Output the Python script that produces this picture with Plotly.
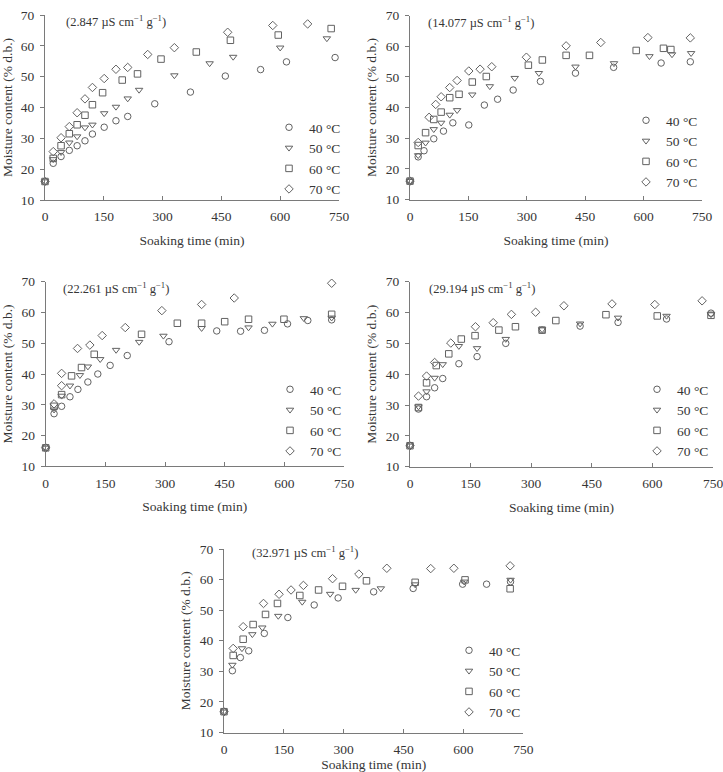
import plotly.graph_objects as go

# ---------------- data (soaking time in min, moisture content % d.b.) ----------------
panel_labels = ["(2.847 µS cm<sup>−1</sup> g<sup>−1</sup>)",
                "(14.077 µS cm<sup>−1</sup> g<sup>−1</sup>)",
                "(22.261 µS cm<sup>−1</sup> g<sup>−1</sup>)",
                "(29.194 µS cm<sup>−1</sup> g<sup>−1</sup>)",
                "(32.971 µS cm<sup>−1</sup> g<sup>−1</sup>)"]
series_names = ["40 °C", "50 °C", "60 °C", "70 °C"]
x_ticks = [0, 150, 300, 450, 600, 750]
y_ticks = [10, 20, 30, 40, 50, 60, 70]

# Panel 1: 2.847
p1_t40 = [0, 21, 41, 62, 82, 102, 121, 151, 181, 211, 280, 371, 460, 550, 616, 740]
p1_m40 = [16, 21.9, 24.1, 26.1, 27.6, 29.2, 31.4, 33.6, 35.7, 37.1, 41.2, 45.0, 50.2, 52.3, 54.8, 56.2]
p1_t50 = [0, 21, 41, 62, 82, 102, 121, 151, 181, 211, 240, 330, 420, 480, 600, 719]
p1_m50 = [16, 23.2, 25.5, 28.6, 30.6, 33.5, 34.4, 38.1, 40.2, 42.9, 45.7, 50.4, 54.3, 56.4, 59.4, 62.4]
p1_t60 = [0, 21, 41, 62, 82, 102, 121, 147, 197, 236, 296, 386, 473, 595, 730]
p1_m60 = [16, 23.5, 27.6, 31.5, 34.4, 37.5, 40.9, 44.8, 48.9, 50.9, 55.7, 58.0, 61.8, 63.5, 65.6]
p1_t70 = [0, 21, 41, 62, 82, 102, 121, 151, 181, 211, 262, 330, 466, 581, 670]
p1_m70 = [16, 25.7, 30.2, 33.8, 38.3, 42.8, 46.5, 49.4, 52.4, 53.0, 57.2, 59.4, 64.4, 66.6, 67.1]

# Panel 2: 14.077
p2_t40 = [0, 21, 36, 61, 86, 110, 151, 191, 225, 265, 335, 425, 523, 645, 720]
p2_m40 = [16, 23.9, 25.9, 29.8, 32.3, 35.0, 34.3, 40.8, 42.7, 45.7, 48.5, 51.2, 53.1, 54.5, 54.9]
p2_t50 = [0, 21, 40, 61, 80, 102, 121, 160, 205, 269, 331, 425, 524, 615, 673, 722]
p2_m50 = [16, 24.4, 28.5, 32.9, 35.0, 37.6, 39.1, 44.2, 46.9, 49.6, 51.2, 53.3, 54.4, 56.7, 57.3, 57.7]
p2_t60 = [0, 21, 40, 61, 80, 102, 126, 160, 196, 304, 340, 401, 461, 581, 651, 670]
p2_m60 = [16, 27.6, 31.8, 36.1, 38.5, 43.2, 44.3, 48.3, 50.1, 53.8, 55.5, 57.0, 57.0, 58.6, 59.3, 58.9]
p2_t70 = [0, 21, 49, 66, 80, 102, 121, 151, 180, 210, 299, 401, 490, 611, 720]
p2_m70 = [16, 28.6, 36.8, 41.0, 43.5, 46.5, 48.8, 51.9, 52.5, 53.3, 56.4, 60.1, 61.2, 62.8, 62.7]

# Panel 3: 22.261
p3_t40 = [0, 21, 40, 61, 81, 106, 131, 162, 205, 310, 430, 490, 550, 608, 659, 719]
p3_m40 = [16, 27.1, 29.5, 32.6, 35.0, 37.4, 40.0, 42.8, 46.0, 50.5, 54.0, 53.9, 54.2, 56.3, 57.4, 57.6]
p3_t50 = [0, 21, 40, 61, 86, 106, 137, 177, 235, 296, 392, 510, 570, 649, 719]
p3_m50 = [16, 28.4, 32.9, 36.2, 39.6, 42.4, 44.8, 47.8, 50.4, 52.4, 54.9, 55.1, 56.3, 58.1, 58.3]
p3_t60 = [0, 21, 40, 65, 90, 122, 241, 331, 392, 450, 510, 599, 719]
p3_m60 = [16, 29.5, 33.3, 39.4, 42.1, 46.4, 52.9, 56.5, 56.5, 57.0, 57.8, 57.8, 59.4]
p3_t70 = [0, 21, 40, 40, 80, 111, 142, 200, 292, 392, 474, 719]
p3_m70 = [16, 30.3, 36.2, 40.2, 48.3, 49.4, 52.5, 55.1, 60.6, 62.6, 64.7, 69.5]

# Panel 4: 29.194
p4_t40 = [0, 21, 41, 61, 81, 121, 166, 237, 327, 421, 515, 635, 745]
p4_m40 = [16.8, 28.7, 32.7, 35.6, 38.6, 43.4, 45.7, 50.0, 54.3, 55.6, 56.8, 57.9, 59.8]
p4_t50 = [0, 21, 41, 61, 81, 121, 166, 237, 327, 421, 515, 635, 745]
p4_m50 = [16.8, 29.5, 34.4, 38.8, 43.2, 49.1, 48.4, 51.4, 54.5, 56.4, 58.3, 58.9, 59.4]
p4_t60 = [0, 21, 41, 65, 96, 127, 161, 220, 261, 327, 361, 485, 612, 745]
p4_m60 = [16.8, 29.2, 37.2, 42.8, 46.6, 51.4, 52.5, 54.3, 55.4, 54.3, 57.4, 59.3, 58.9, 59.1]
p4_t70 = [0, 21, 41, 61, 101, 162, 206, 251, 311, 381, 500, 606, 723]
p4_m70 = [16.8, 32.9, 39.4, 43.8, 50.1, 55.4, 56.7, 59.4, 60.1, 62.2, 62.8, 62.6, 63.8]

# Panel 5: 32.971
p5_t40 = [0, 21, 41, 62, 101, 160, 226, 286, 375, 474, 598, 658, 718]
p5_m40 = [16.8, 30.2, 34.5, 36.7, 42.4, 47.6, 51.7, 54.0, 56.0, 57.1, 58.5, 58.5, 59.3]
p5_t50 = [0, 21, 45, 71, 96, 136, 196, 266, 330, 393, 479, 602, 718]
p5_m50 = [16.8, 32.1, 37.5, 42.1, 44.3, 48.1, 52.7, 55.3, 56.6, 57.1, 58.4, 59.3, 59.9]
p5_t60 = [0, 23, 48, 73, 104, 134, 190, 237, 297, 357, 479, 604, 717]
p5_m60 = [16.8, 35.2, 40.5, 45.3, 48.6, 52.2, 54.8, 56.6, 57.8, 59.6, 59.1, 59.9, 57.0]
p5_t70 = [0, 23, 48, 99, 138, 168, 199, 272, 338, 408, 518, 576, 717]
p5_m70 = [16.8, 37.5, 44.6, 52.2, 55.2, 56.6, 58.1, 60.3, 61.8, 63.7, 63.6, 63.7, 64.5]

panels = [
    [(p1_t40, p1_m40), (p1_t50, p1_m50), (p1_t60, p1_m60), (p1_t70, p1_m70)],
    [(p2_t40, p2_m40), (p2_t50, p2_m50), (p2_t60, p2_m60), (p2_t70, p2_m70)],
    [(p3_t40, p3_m40), (p3_t50, p3_m50), (p3_t60, p3_m60), (p3_t70, p3_m70)],
    [(p4_t40, p4_m40), (p4_t50, p4_m50), (p4_t60, p4_m60), (p4_t70, p4_m70)],
    [(p5_t40, p5_m40), (p5_t50, p5_m50), (p5_t60, p5_m60), (p5_t70, p5_m70)],
]

# ---------------- layout geometry (pixels in a 723x772 canvas) ----------------
W, H = 723, 772
# (left, right, top, bottom) of each plot area in pixels
boxes = [(45, 339, 15, 200), (410, 702, 15.5, 199.5), (45.7, 344, 281.7, 466.3),
         (410, 713, 281.7, 466.7), (224, 523.3, 549, 732.5)]
label_pos = [(0.065, 0.965), (0.056, 0.965), (0.051, 0.966), (0.057, 0.966), (0.087, 0.985)]
# legend (right, bottom) in pixels
legend_pos = [(346, 205), (703, 198), (347, 467), (714, 467), (526, 728)]

symbols = ["circle-open", "triangle-down-open", "square-open", "diamond-open"]
mcolor = "#626262"
tcolor = "#363636"
FONT = "Liberation Serif, Times New Roman, serif"

fig = go.Figure()
layout = dict(width=W, height=H, margin=dict(l=0, r=0, t=0, b=0),
              paper_bgcolor="white", plot_bgcolor="white",
              font=dict(family=FONT, size=13, color=tcolor), annotations=[])

for i, (series, box) in enumerate(zip(panels, boxes)):
    n = i + 1
    xa = "x" if n == 1 else f"x{n}"
    ya = "y" if n == 1 else f"y{n}"
    lg = "legend" if n == 1 else f"legend{n}"
    for j, (t, m) in enumerate(series):
        fig.add_trace(go.Scatter(
            x=t, y=m, mode="markers", name=series_names[j],
            xaxis=xa, yaxis=ya, legend=lg, showlegend=True, cliponaxis=False,
            marker=dict(symbol=symbols[j], size=6.5, color=mcolor,
                        line=dict(width=1, color=mcolor)),
        ))
    l, r, tp, b = box
    axis_common = dict(showgrid=False, zeroline=False, showline=True,
                       linecolor="#7a7a7a", linewidth=1, automargin=False,
                       ticklabeloverflow="allow",
                       tickfont=dict(family=FONT, size=13.5, color=tcolor),
                       tickcolor="#7a7a7a")
    layout["xaxis" if n == 1 else f"xaxis{n}"] = dict(
        axis_common, domain=[l / W, r / W], range=[0, 750],
        tickvals=x_ticks, ticks="inside", ticklen=4, ticklabelstandoff=4,
        anchor=ya,
        title=dict(text="Soaking time (min)", standoff=12,
                   font=dict(family=FONT, size=13.5, color=tcolor)))
    layout["yaxis" if n == 1 else f"yaxis{n}"] = dict(
        axis_common, domain=[1 - b / H, 1 - tp / H], range=[10, 70],
        tickvals=y_ticks, ticks="outside", ticklen=4, ticklabelstandoff=3,
        anchor=xa,
        title=dict(text="Moisture content (% d.b.)", standoff=6,
                   font=dict(family=FONT, size=13.5, color=tcolor)))
    lx, ly = legend_pos[i]
    layout[lg] = dict(x=lx / W, y=1 - ly / H, xanchor="right", yanchor="bottom",
                      bgcolor="rgba(0,0,0,0)", borderwidth=0, itemwidth=30,
                      tracegroupgap=0,
                      font=dict(family=FONT, size=13.5, color=tcolor))
    ax, ay = label_pos[i]
    layout["annotations"].append(dict(
        text=panel_labels[i], xref=f"{xa} domain", yref=f"{ya} domain",
        x=ax, y=ay, xanchor="left", yanchor="middle", showarrow=False,
        font=dict(family=FONT, size=12.5, color=tcolor)))

fig.update_layout(**layout)
fig.write_html("out.html")
